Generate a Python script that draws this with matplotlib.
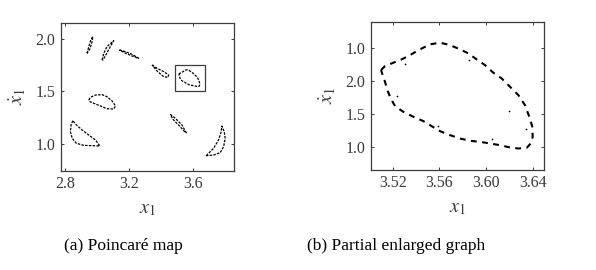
import matplotlib
matplotlib.use("Agg")
import matplotlib.pyplot as plt
from matplotlib.patches import Rectangle

plt.rcParams['font.family'] = ['Liberation Serif', 'DejaVu Serif']
plt.rcParams['mathtext.fontset'] = 'stix'

# ---------------- data ----------------
# Poincaré map: nine closed islands, (x1, x1dot)
isl1_x = [2.935, 2.946, 2.960, 2.971, 2.967, 2.952, 2.935]
isl1_y = [1.866, 1.930, 2.000, 2.026, 1.978, 1.904, 1.866]
isl2_x = [3.029, 3.040, 3.060, 3.102, 3.081, 3.056, 3.035, 3.029]
isl2_y = [1.802, 1.866, 1.930, 1.987, 1.930, 1.859, 1.802, 1.802]
isl3_x = [3.138, 3.175, 3.217, 3.258, 3.217, 3.169, 3.138]
isl3_y = [1.898, 1.882, 1.856, 1.818, 1.840, 1.872, 1.898]
isl4_x = [3.342, 3.373, 3.415, 3.446, 3.442, 3.415, 3.377, 3.342]
isl4_y = [1.754, 1.722, 1.690, 1.658, 1.636, 1.642, 1.690, 1.754]
isl6_x = [2.946, 2.956, 2.988, 3.029, 3.060, 3.092, 3.113, 3.102, 3.060, 3.019, 2.977, 2.952, 2.946]
isl6_y = [1.419, 1.444, 1.466, 1.470, 1.450, 1.409, 1.361, 1.332, 1.335, 1.361, 1.387, 1.403, 1.419]
isl7_x = [2.846, 2.835, 2.831, 2.842, 2.869, 2.915, 2.967, 3.015, 2.988, 2.946, 2.904, 2.869, 2.846]
isl7_y = [1.220, 1.179, 1.115, 1.051, 1.003, 0.984, 0.981, 0.978, 1.035, 1.083, 1.131, 1.179, 1.220]
isl8_x = [3.456, 3.488, 3.529, 3.556, 3.546, 3.508, 3.473, 3.456]
isl8_y = [1.281, 1.243, 1.179, 1.105, 1.115, 1.179, 1.233, 1.281]
isl9_x = [3.681, 3.727, 3.758, 3.775, 3.779, 3.794, 3.800, 3.790, 3.769, 3.727, 3.681]
isl9_y = [0.885, 0.955, 1.035, 1.115, 1.169, 1.115, 1.051, 0.971, 0.914, 0.891, 0.885]

# island 5 (the enlarged one)
isl5_x = [3.5100, 3.5134, 3.5206, 3.5277, 3.5349, 3.5434, 3.5520, 3.5606, 3.5691, 3.5777,
          3.5849, 3.5920, 3.5991, 3.6063, 3.6134, 3.6206, 3.6277, 3.6334, 3.6371, 3.6397,
          3.6400, 3.6383, 3.6349, 3.6277, 3.6206, 3.6120, 3.6034, 3.5949, 3.5863, 3.5777,
          3.5691, 3.5606, 3.5534, 3.5463, 3.5377, 3.5291, 3.5220, 3.5183, 3.5154, 3.5134,
          3.5114, 3.5100]
isl5_y = [1.6662, 1.6722, 1.6773, 1.6823, 1.6889, 1.6975, 1.7051, 1.7076, 1.7040, 1.6975,
          1.6914, 1.6823, 1.6737, 1.6621, 1.6535, 1.6409, 1.6283, 1.6131, 1.5955, 1.5803,
          1.5652, 1.5551, 1.5485, 1.5475, 1.5490, 1.5525, 1.5551, 1.5576, 1.5591, 1.5626,
          1.5677, 1.5737, 1.5813, 1.5889, 1.5955, 1.6030, 1.6116, 1.6232, 1.6359, 1.6485,
          1.6586, 1.6662]
# isolated points inside the enlarged island
stray_x = [3.5306, 3.5857, 3.5240, 3.6200, 3.6343, 3.5591, 3.6049]
stray_y = [1.6747, 1.6813, 1.6268, 1.6045, 1.5773, 1.5813, 1.5626]

# zoom box
box_x = [3.485, 3.671]
box_y = [1.500, 1.754]

left_xticks = [2.8, 3.2, 3.6]
left_xticklabels = ['2.8', '3.2', '3.6']
left_yticks = [1.0, 1.5, 2.0]
left_yticklabels = ['1.0', '1.5', '2.0']
right_xticks = [3.52, 3.56, 3.60, 3.64]
right_xticklabels = ['3.52', '3.56', '3.60', '3.64']
right_yticks = [1.70, 1.65, 1.60, 1.55]
right_yticklabels = ['1.0', '2.0', '1.5', '1.0']

captions = ['(a) Poincaré map', '(b) Partial enlarged graph']

# ---------------- figure ----------------
W, H = 596, 270
fig = plt.figure(figsize=(W / 100, H / 100), dpi=100)
fig.patch.set_facecolor('white')

frame_col = '#3c3c3c'
text_col = '#3a3a3a'

def style(ax):
    for s in ax.spines.values():
        s.set_color(frame_col)
        s.set_linewidth(0.9)
    ax.tick_params(direction='in', length=2.5, width=0.7, color=frame_col,
                   top=True, right=True, labelsize=11.5, labelcolor=text_col, pad=4)

axL = fig.add_axes([61 / W, 1 - 170.5 / H, 173 / W, 147.8 / H])
axR = fig.add_axes([371 / W, 1 - 169.5 / H, 173 / W, 147.5 / H])

islands = [(isl1_x, isl1_y), (isl2_x, isl2_y), (isl3_x, isl3_y), (isl4_x, isl4_y),
           (isl5_x, isl5_y), (isl6_x, isl6_y), (isl7_x, isl7_y), (isl8_x, isl8_y),
           (isl9_x, isl9_y)]
for xs, ys in islands:
    axL.plot(xs, ys, color='black', lw=0.9, ls=(0, (2.0, 1.0)))
axL.add_patch(Rectangle((box_x[0], box_y[0]), box_x[1] - box_x[0], box_y[1] - box_y[0],
                        fill=False, edgecolor=frame_col, lw=0.9))
axL.set_xlim(2.772, 3.855)
axL.set_ylim(0.743, 2.159)
axL.set_xticks(left_xticks, left_xticklabels)
axL.set_yticks(left_yticks, left_yticklabels)
style(axL)

axR.plot(isl5_x, isl5_y, color='black', lw=1.5, ls=(0, (2.8, 2.6)))
axR.scatter(stray_x, stray_y, s=1.5, color='black', lw=0)
axR.set_xlim(3.5014, 3.6497)
axR.set_ylim(1.5157, 1.7389)
axR.set_xticks(right_xticks, right_xticklabels)
axR.set_yticks(right_yticks, right_yticklabels)
style(axR)

for ax in (axL, axR):
    ax.set_xlabel(r'$x_1$', fontsize=14.5, color=text_col, labelpad=5)
    ax.set_ylabel(r'$\dot{x}_1$', fontsize=14.5, color=text_col, labelpad=5)

fig.text(123 / W, 1 - 246 / H, captions[0], ha='center', va='center', fontsize=12.5, color='black')
fig.text(396 / W, 1 - 246 / H, captions[1], ha='center', va='center', fontsize=12.5, color='black')

fig.savefig('out.png', dpi=100, facecolor='white')
